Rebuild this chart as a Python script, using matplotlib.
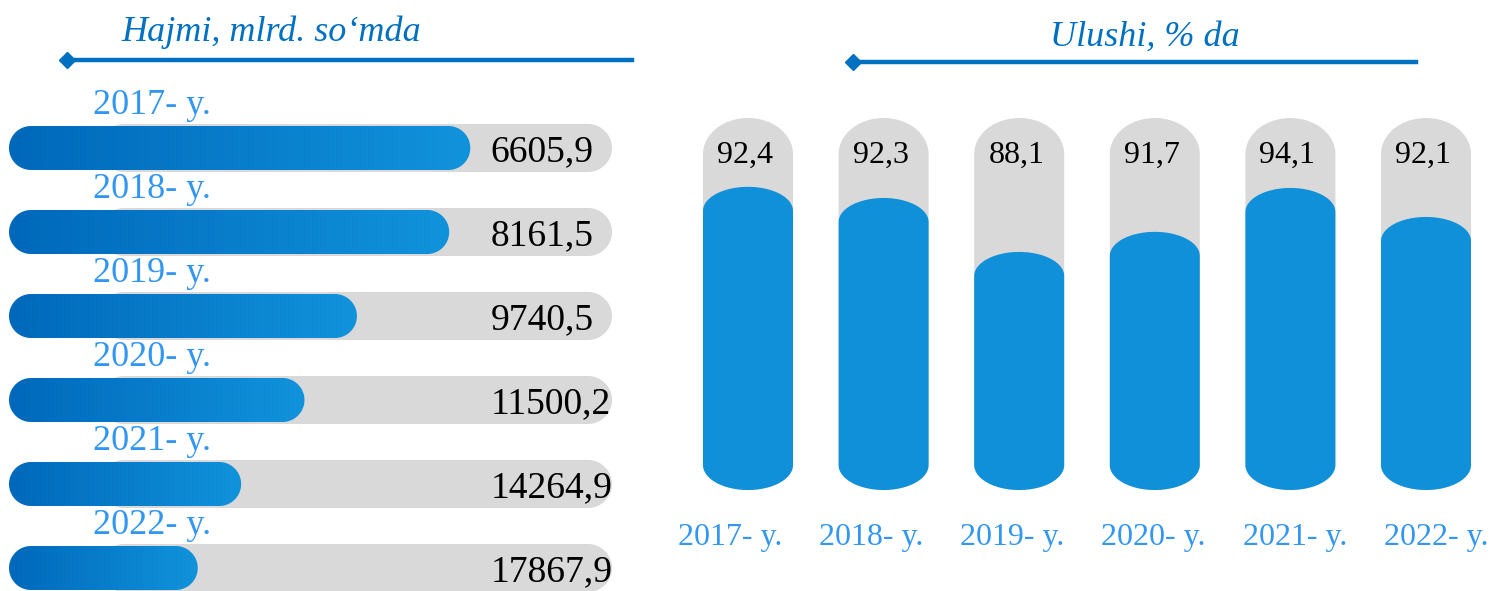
import numpy as np
import matplotlib
matplotlib.use('Agg')
import matplotlib.pyplot as plt
from matplotlib.patches import Polygon
from matplotlib.lines import Line2D
from matplotlib.colors import LinearSegmentedColormap

plt.rcParams['font.family'] = ['Liberation Serif', 'DejaVu Serif']

# data
years = ['2017- y.', '2018- y.', '2019- y.', '2020- y.', '2021- y.', '2022- y.']
hajm = [6605.9, 8161.5, 9740.5, 11500.2, 14264.9, 17867.9]   # mlrd. so'm
ulush = [92.4, 92.3, 88.1, 91.7, 94.1, 92.1]                # %
# drawn lengths as they appear in the picture (share of the track)
bar_fill = [0.765, 0.73, 0.577, 0.49, 0.385, 0.313]
cyl_fill = [0.815, 0.785, 0.64, 0.694, 0.812, 0.734]

title_l = 'Hajmi, mlrd. so‘mda'
title_r = 'Ulushi, % da'

dark_blue = '#0070C0'
light_blue = '#3396F0'
fill_blue = '#0F90D9'
grey = '#D9D9D9'


def fmt(v):
    return f'{v:.1f}'.replace('.', ',')


def pill(x0, x1, yc, h, rx):
    # horizontal capsule, rx is the cap radius in x units
    t = np.linspace(-np.pi / 2, np.pi / 2, 50)
    ry = h / 2
    right = np.column_stack([x1 - rx + rx * np.cos(t), yc + ry * np.sin(t)])
    left = np.column_stack([x0 + rx - rx * np.cos(t), yc - ry * np.sin(t)])
    return np.vstack([right, left])


def cylinder(xc, w, top, bottom, ry_top, ry_bot):
    t = np.linspace(0, np.pi, 50)
    top_arc = np.column_stack([xc + w / 2 * np.cos(t), top - ry_top + ry_top * np.sin(t)])
    bot_arc = np.column_stack([xc - w / 2 * np.cos(t), bottom + ry_bot - ry_bot * np.sin(t)])
    return np.vstack([top_arc, bot_arc])


W, H = 1501, 591
fig = plt.figure(figsize=(W / 100, H / 100), dpi=100)

# ---- left panel: horizontal pills ----
ax_l = fig.add_axes([0, 0, 650 / W, 1])
sx, sy = 603.0, 84.0          # pixels per x unit / per row
ax_l.axis('off')

grad = LinearSegmentedColormap.from_list('g', ['#0068BA', '#1193DB'])
for i in range(len(years)):
    g = Polygon(pill(91 / sx, 1.0, i, 48 / sy, 24 / sx), closed=True,
                facecolor=grey, edgecolor='none', zorder=1)
    ax_l.add_patch(g)
    b = Polygon(pill(0, bar_fill[i], i, 44 / sy, 22 / sx), closed=True,
                facecolor='none', edgecolor='none', zorder=2)
    ax_l.add_patch(b)
    im = ax_l.imshow(np.linspace(0, 1, 256).reshape(1, -1), cmap=grad, aspect='auto',
                     extent=[0, bar_fill[i], i + 0.3, i - 0.3], zorder=2)
    im.set_clip_path(b)
    ax_l.text(bar_fill[0] + 20 / sx, i + 4 / sy, fmt(hajm[i]), ha='left', va='center',
              fontsize=27, color='black', zorder=3)
    ax_l.text(143 / sx, i - 42 / sy, years[i], ha='center', va='center',
              fontsize=26, color=light_blue, zorder=3)

ax_l.set_xlim(-9 / sx, (650 - 9) / sx)
ax_l.set_ylim((H - 148) / sy, -148 / sy)

# ---- right panel: cylinders ----
ax_r = fig.add_axes([680 / W, 0, 821 / W, 1])
px, py = 135.6, 372.0
ax_r.set_xlim((680 - 748) / px, (W - 748) / px)
ax_r.set_ylim((490 - H) / py, 490 / py)
ax_r.axis('off')

w = 90 / px
lab_step = 141.2 / px
for i in range(len(years)):
    ax_r.add_patch(Polygon(cylinder(i, w, 1.0, 0, 36 / py, 25 / py), closed=True,
                           facecolor=grey, edgecolor='none', zorder=1))
    ax_r.add_patch(Polygon(cylinder(i, w, cyl_fill[i], 0, 24 / py, 25 / py), closed=True,
                           facecolor=fill_blue, edgecolor='none', zorder=2))
    ax_r.text(i - 3 / px, (490 - 155) / py, fmt(ulush[i]), ha='center', va='center',
              fontsize=23, color='black', zorder=3)
    ax_r.text(i * lab_step - 18 / px, (490 - 538) / py, years[i], ha='center', va='center',
              fontsize=23, color=light_blue, zorder=3)

# ---- headers with arrow lines ----
fig.text(271 / W, 1 - 32 / H, title_l, ha='center', va='center', fontsize=26,
         style='italic', color=dark_blue)
fig.text(1145 / W, 1 - 37 / H, title_r, ha='center', va='center', fontsize=26,
         style='italic', color=dark_blue)
for x0, x1, y in [(67, 632, 60), (853, 1416, 62)]:
    fig.add_artist(Line2D([x0 / W, x1 / W], [1 - y / H] * 2, transform=fig.transFigure,
                          color=dark_blue, lw=3.2, marker='D', markersize=8,
                          markevery=[0]))

fig.savefig('out.png', dpi=100)
